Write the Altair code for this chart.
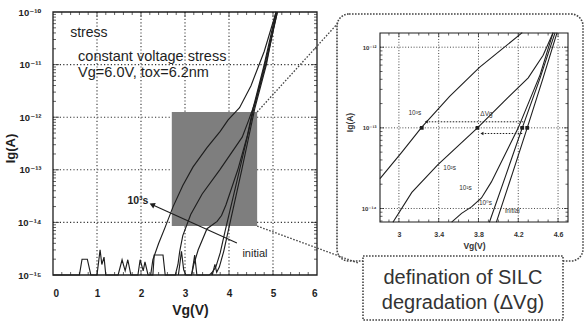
import altair as alt
import numpy as np
import pandas as pd

FONT = "Liberation Sans, Arial, Helvetica, DejaVu Sans, sans-serif"
INK = "#1e1e1e"
GRID = "#333333"

# ---------------- main panel : Vg (V) and log10 Ig ----------------
main_x_ticks = [0, 1, 2, 3, 4, 5, 6]
main_y_exps = [-15, -14, -13, -12, -11, -10]

floor_v = [0.00, 0.60, 0.66, 0.78, 0.86, 1.00, 1.07, 1.11, 1.16, 1.20, 1.48, 1.57, 1.64, 1.70, 1.77,
           1.93, 1.98, 2.05, 2.09, 2.16, 2.22]
floor_e = [-15, -15, -14.70, -14.70, -15, -15, -14.52, -14.80, -14.66, -15, -15, -14.71, -14.92, -14.71, -15,
           -15, -14.71, -14.92, -14.75, -15, -15]

s3_v = [2.22, 2.27, 2.40, 2.55, 2.73, 2.95, 3.18, 3.50, 3.80, 3.98, 4.24, 4.50, 4.80, 5.07]
s3_e = [-15, -14.71, -14.40, -14.09, -13.70, -13.30, -12.95, -12.58, -12.27, -12.05, -11.82, -11.40, -10.75, -10.0]

s2_v = [2.22, 2.27, 2.30, 2.50, 2.55, 2.78, 2.84, 2.88, 2.95, 3.13, 3.39, 3.79, 4.30, 4.45, 4.60, 4.80, 5.10]
s2_e = [-15, -15, -14.62, -14.62, -15, -15, -14.80, -14.55, -14.25, -13.85, -13.46, -13.00, -12.38, -12.05, -11.70, -11.05, -10.0]

s1_v = [2.85, 2.92, 2.97, 3.02, 3.15, 3.20, 3.30, 3.50, 3.73, 3.83, 3.93, 4.20, 4.42, 4.55, 4.80, 5.07]
s1_e = [-15, -14.55, -14.90, -15, -15, -14.80, -14.52, -14.12, -13.98, -13.87, -13.67, -13.00, -12.34, -11.82, -11.00, -10.0]

s0_v = [3.15, 3.22, 3.27, 3.34, 3.55, 3.61, 3.70, 3.80, 3.91, 4.24, 4.57, 4.85, 5.10]
s0_e = [-15, -14.62, -15, -15, -15, -14.96, -14.85, -14.58, -14.17, -13.00, -11.82, -10.95, -10.0]

init_v = [3.62, 3.68, 3.72, 3.78, 3.88, 3.98, 4.29, 4.59, 4.85, 5.08]
init_e = [-15, -14.80, -14.95, -14.85, -14.55, -14.17, -13.00, -11.82, -11.00, -10.0]

box_v = [2.70, 4.64]
box_e = [-14.07, -11.90]

main_text = ["stress", "constant voltage stress", "Vg=6.0V, tox=6.2nm"]
main_text_v = [0.39, 0.57, 0.57]
main_text_e = [-10.40, -10.855, -11.16]

lab3_text, lab3_v, lab3_e = "10³s", 1.93, -13.59
init_text, init_lv, init_le = "initial", 4.59, -14.60
arrow_v = [4.18, 2.27]
arrow_e = [-14.39, -13.67]

# ---------------- inset (zoom of shaded region) ----------------
inset_x_ticks = [3.0, 3.4, 3.8, 4.2, 4.6]
inset_y_exps = [-14, -13, -12]
inset_dom_v = [2.81, 4.70]
inset_dom_i = [6.8e-15, 1.5e-12]

iA_v = [2.81, 3.03, 3.23, 3.51, 3.81, 4.03, 4.24]
iA_e = [-13.63, -13.30, -12.99, -12.61, -12.25, -12.03, -11.82]
iB_v = [2.94, 3.13, 3.39, 3.79, 4.05, 4.30, 4.45, 4.55]
iB_e = [-14.17, -13.80, -13.46, -13.00, -12.68, -12.38, -12.10, -11.82]
iC_v = [3.53, 3.63, 3.73, 3.83, 3.93, 4.20, 4.42, 4.55]
iC_e = [-14.17, -14.06, -13.98, -13.87, -13.67, -13.00, -12.34, -11.82]
iD_v = [3.91, 4.08, 4.24, 4.42, 4.57]
iD_e = [-14.17, -13.57, -13.00, -12.38, -11.82]
iE_v = [3.98, 4.14, 4.29, 4.45, 4.59]
iE_e = [-14.17, -13.57, -13.00, -12.38, -11.82]

mark_v = [3.23, 3.79, 4.24, 4.29]
mark_e = [-13.0, -13.0, -13.0, -13.0]

dv_from_v = [4.25, 4.24]
dv_to_v = [3.28, 3.84]
dv_e = [-12.925, -13.07]

inset_text = ["10³s", "ΔVg", "10²s", "10¹s", "10⁰s", "initial"]
inset_text_v = [3.16, 3.88, 3.51, 3.67, 3.87, 4.14]
inset_text_e = [-12.81, -12.83, -13.50, -13.75, -13.93, -14.03]

callout_lines = ["defination of SILC", "degradation (ΔVg)"]

# ---------------- helpers ----------------
SUP = str.maketrans("-0123456789", "⁻⁰¹²³⁴⁵⁶⁷⁸⁹")


def pow_expr(exps):
    e = "round(log(datum.value)/LN10)"
    expr = "''"
    for x in reversed(exps):
        expr = f"({e}=={x}) ? '10{str(x).translate(SUP)}' : {expr}"
    return expr


def curve_df(pairs):
    rows = []
    for name, vs, es in pairs:
        for k, (v, e) in enumerate(zip(vs, es)):
            rows.append({"series": name, "k": k, "V": v, "I": 10.0 ** e})
    return pd.DataFrame(rows)


MX = alt.Scale(domain=[0, 6], range=[53, 317], nice=False, zero=False)
MY = alt.Scale(type="log", domain=[1e-15, 1e-10], range=[275, 12], nice=False)
IX = alt.Scale(domain=inset_dom_v, range=[380, 568], nice=False, zero=False)
IY = alt.Scale(type="log", domain=inset_dom_i, range=[222, 33], nice=False)

MX_AX = alt.Axis(orient="bottom", offset=-47, values=main_x_ticks, format="d", ticks=False, tickSize=0,
                 domain=False, grid=False, labelFont=FONT, labelFontSize=10, labelFontWeight="bold",
                 labelColor=INK, labelPadding=13, title="Vg(V)", titleFont=FONT, titleFontSize=14,
                 titleFontWeight="bold", titleColor=INK, titleX=190, titleY=35,
                 titleBaseline="middle", titleAlign="center")
MY_AX = alt.Axis(orient="left", offset=-53, values=[10.0 ** e for e in main_y_exps],
                 labelExpr=pow_expr(main_y_exps), ticks=False, tickSize=0, domain=False, grid=False,
                 labelFont=FONT, labelFontSize=9.5, labelFontWeight="bold", labelColor=INK,
                 labelPadding=12, title="Ig(A)", titleFont=FONT, titleFontSize=13,
                 titleFontWeight="bold", titleColor=INK, titleX=-43, titleY=148, titleAngle=270,
                 titleBaseline="middle", titleAlign="center")
IX_AX = alt.Axis(orient="bottom", offset=-100, values=inset_x_ticks, format="~g", ticks=False, tickSize=0,
                 domain=False, grid=False, labelFont=FONT, labelFontSize=7, labelFontWeight="bold",
                 labelColor="#333", labelPadding=8, title="Vg(V)", titleFont=FONT, titleFontSize=8.5,
                 titleFontWeight="bold", titleColor="#333", titleX=474, titleY=23,
                 titleBaseline="middle", titleAlign="center")
IY_AX = alt.Axis(orient="left", offset=-380, values=[10.0 ** e for e in inset_y_exps],
                 labelExpr=pow_expr(inset_y_exps), ticks=False, tickSize=0, domain=False, grid=False,
                 labelFont=FONT, labelFontSize=6, labelFontWeight="bold", labelColor="#333",
                 labelPadding=4, title="Ig(A)", titleFont=FONT, titleFontSize=8.5,
                 titleFontWeight="bold", titleColor="#333", titleX=-31, titleY=122, titleAngle=270,
                 titleBaseline="middle", titleAlign="center")


def mx(f="V"):
    return alt.X(f"{f}:Q", scale=MX, axis=MX_AX)


def my(f="I"):
    return alt.Y(f"{f}:Q", scale=MY, axis=MY_AX)


def ix(f="V"):
    return alt.X(f"{f}:Q", scale=IX, axis=IX_AX)


def iy(f="I"):
    return alt.Y(f"{f}:Q", scale=IY, axis=IY_AX)


# ---------------- main layers ----------------
gv = pd.DataFrame({"V": main_x_ticks[1:-1], "I0": 1e-15, "I1": 1e-10})
gh = pd.DataFrame({"I": [10.0 ** e for e in main_y_exps[1:-1]], "V0": 0, "V1": 6})
m_grid_v = alt.Chart(gv).mark_rule(strokeDash=[1.2, 2.2], color=GRID, strokeWidth=1.1).encode(
    x=mx("V"), y=my("I0"), y2="I1")
m_grid_h = alt.Chart(gh).mark_rule(strokeDash=[1.2, 2.2], color=GRID, strokeWidth=1.1).encode(
    x=mx("V0"), x2="V1", y=my("I"))

boxdf = pd.DataFrame({"V0": [box_v[0]], "V1": [box_v[1]], "I0": [10.0 ** box_e[0]], "I1": [10.0 ** box_e[1]]})
m_box = alt.Chart(boxdf).mark_rect(color="#7e7e7e").encode(x=mx("V0"), x2="V1", y=my("I0"), y2="I1")

mcurves = curve_df([("floor", floor_v, floor_e), ("1e3 s", s3_v, s3_e), ("1e2 s", s2_v, s2_e),
                    ("1e1 s", s1_v, s1_e), ("1e0 s", s0_v, s0_e), ("initial", init_v, init_e)])
m_lines = alt.Chart(mcurves).mark_line(color=INK, strokeWidth=1.15).encode(
    x=mx(), y=my(), detail="series:N", order="k:Q")

framedf = pd.DataFrame({"V0": [0], "V1": [6], "I0": [1e-15], "I1": [1e-10]})
m_frame = alt.Chart(framedf).mark_rect(fillOpacity=0, stroke=INK, strokeWidth=1.3).encode(
    x=mx("V0"), x2="V1", y=my("I0"), y2="I1")

m_xt = np.round(np.arange(0.2, 6.0, 0.2), 2)
m_xminor = [v for v in m_xt if abs(v - round(v)) > 1e-6]
m_xmajor = main_x_ticks[1:-1]
m_yminor = [k * 10.0 ** e for e in main_y_exps[:-1] for k in range(2, 10)]
m_ymajor = [10.0 ** e for e in main_y_exps[1:-1]]


def hticks(vals, edge, length, off, xf, yf):
    df = pd.DataFrame({"V": vals, "I": edge})
    return alt.Chart(df).mark_tick(orient="vertical", size=length, thickness=1, color=INK,
                                   yOffset=off).encode(x=xf("V"), y=yf("I"))


def vticks(vals, edge, length, off, xf, yf):
    df = pd.DataFrame({"I": vals, "V": edge})
    return alt.Chart(df).mark_tick(orient="horizontal", size=length, thickness=1, color=INK,
                                   xOffset=off).encode(x=xf("V"), y=yf("I"))


m_ticks = [
    hticks(m_xminor, 1e-15, 3, -1.5, mx, my), hticks(m_xmajor, 1e-15, 5, -2.5, mx, my),
    hticks(m_xminor, 1e-10, 3, 1.5, mx, my), hticks(m_xmajor, 1e-10, 5, 2.5, mx, my),
    vticks(m_yminor, 0, 3, 1.5, mx, my), vticks(m_ymajor, 0, 6, 3, mx, my),
    vticks(m_yminor, 6, 3, -1.5, mx, my), vticks(m_ymajor, 6, 6, -3, mx, my),
]

mtext = pd.DataFrame({"t": main_text, "V": main_text_v, "I": [10.0 ** e for e in main_text_e],
                      "fs": [14, 14.5, 14.5]})
m_text = alt.Chart(mtext).mark_text(align="left", baseline="middle", font=FONT, color=INK).encode(
    x=mx(), y=my(), text="t:N", size=alt.Size("fs:Q", scale=None, legend=None))

m_lab3 = alt.Chart(pd.DataFrame({"t": [lab3_text], "V": [lab3_v], "I": [10.0 ** lab3_e]})).mark_text(
    align="center", baseline="middle", font=FONT, fontSize=10.5, fontWeight="bold", color=INK).encode(
    x=mx(), y=my(), text="t:N")
m_labi = alt.Chart(pd.DataFrame({"t": [init_text], "V": [init_lv], "I": [10.0 ** init_le]})).mark_text(
    align="center", baseline="middle", font=FONT, fontSize=11, color=INK).encode(
    x=mx(), y=my(), text="t:N")

arrdf = pd.DataFrame({"V0": [arrow_v[0]], "I0": [10.0 ** arrow_e[0]], "V1": [arrow_v[1]], "I1": [10.0 ** arrow_e[1]]})
m_arrow = alt.Chart(arrdf).mark_rule(color=INK, strokeWidth=1.1).encode(
    x=mx("V0"), y=my("I0"), x2="V1", y2="I1")
m_head = alt.Chart(arrdf).mark_point(shape="triangle", filled=True, size=38, angle=294, color=INK,
                                     opacity=1).encode(x=mx("V1"), y=my("I1"))

conn_top = alt.Chart(pd.DataFrame({"V": [box_v[1]], "I": [10.0 ** box_e[1]]})).mark_rule(
    strokeDash=[1.6, 1.6], color="#444", strokeWidth=1.3).encode(
    x=mx(), y=my(), x2=alt.value(339), y2=alt.value(22))
conn_bot = alt.Chart(pd.DataFrame({"V": [box_v[1]], "I": [10.0 ** box_e[0]]})).mark_rule(
    strokeDash=[1.6, 1.6], color="#444", strokeWidth=1.3).encode(
    x=mx(), y=my(), x2=alt.value(358), y2=alt.value(263))

main = alt.layer(m_grid_v, m_grid_h, m_box, m_lines, m_frame, *m_ticks, m_text, m_lab3, m_labi,
                 m_arrow, m_head, conn_top, conn_bot)

# ---------------- decorations (call-out frames) ----------------
one = pd.DataFrame({"d": [0]})
d_round = alt.Chart(one).mark_rect(cornerRadius=12, fillOpacity=0, stroke="#444", strokeWidth=1.6,
                                   strokeDash=[1.6, 1.4]).encode(
    x=alt.value(337), x2=alt.value(583), y=alt.value(14), y2=alt.value(261))
d_box = alt.Chart(one).mark_rect(fill="white", stroke="#444", strokeWidth=1.6,
                                 strokeDash=[1.6, 1.4]).encode(
    x=alt.value(363), x2=alt.value(563), y=alt.value(256), y2=alt.value(320))
d_t1 = alt.Chart(one).mark_text(font=FONT, fontSize=20, color="#333", baseline="middle").encode(
    x=alt.value(463), y=alt.value(278), text=alt.value(callout_lines[0]))
d_t2 = alt.Chart(one).mark_text(font=FONT, fontSize=20, color="#333", baseline="middle").encode(
    x=alt.value(463), y=alt.value(303), text=alt.value(callout_lines[1]))
decor = alt.layer(d_round, d_box, d_t1, d_t2)

# ---------------- inset layers ----------------
igv = pd.DataFrame({"V": inset_x_ticks, "I0": inset_dom_i[0], "I1": inset_dom_i[1]})
igh = pd.DataFrame({"I": [10.0 ** e for e in inset_y_exps], "V0": inset_dom_v[0], "V1": inset_dom_v[1]})
i_grid_v = alt.Chart(igv).mark_rule(strokeDash=[1, 1.8], color=GRID, strokeWidth=0.9).encode(
    x=ix("V"), y=iy("I0"), y2="I1")
i_grid_h = alt.Chart(igh).mark_rule(strokeDash=[1, 1.8], color=GRID, strokeWidth=0.9).encode(
    x=ix("V0"), x2="V1", y=iy("I"))

icurves = curve_df([("1e3 s", iA_v, iA_e), ("1e2 s", iB_v, iB_e), ("1e1 s", iC_v, iC_e),
                    ("1e0 s", iD_v, iD_e), ("initial", iE_v, iE_e)])
i_lines = alt.Chart(icurves).mark_line(color=INK, strokeWidth=1.1).encode(
    x=ix(), y=iy(), detail="series:N", order="k:Q")

iframe = pd.DataFrame({"V0": [inset_dom_v[0]], "V1": [inset_dom_v[1]], "I0": [inset_dom_i[0]], "I1": [inset_dom_i[1]]})
i_frame = alt.Chart(iframe).mark_rect(fillOpacity=0, stroke=INK, strokeWidth=1.1).encode(
    x=ix("V0"), x2="V1", y=iy("I0"), y2="I1")

i_xt = np.round(np.arange(2.9, 4.65, 0.1), 2)
i_xminor = [v for v in i_xt if min(abs(v - t) for t in inset_x_ticks) > 1e-6]
i_yminor = [k * 10.0 ** e for e in (-15, -14, -13) for k in range(2, 10)
            if inset_dom_i[0] <= k * 10.0 ** e <= inset_dom_i[1]]
i_ymajor = [10.0 ** e for e in inset_y_exps]
i_ticks = [
    hticks(i_xminor, inset_dom_i[0], 2.5, -1.25, ix, iy), hticks(inset_x_ticks, inset_dom_i[0], 4, -2, ix, iy),
    hticks(i_xminor, inset_dom_i[1], 2.5, 1.25, ix, iy), hticks(inset_x_ticks, inset_dom_i[1], 4, 2, ix, iy),
    vticks(i_yminor, inset_dom_v[0], 2.5, 1.25, ix, iy), vticks(i_ymajor, inset_dom_v[0], 4, 2, ix, iy),
    vticks(i_yminor, inset_dom_v[1], 2.5, -1.25, ix, iy), vticks(i_ymajor, inset_dom_v[1], 4, -2, ix, iy),
]

mk = pd.DataFrame({"V": mark_v, "I": [10.0 ** e for e in mark_e]})
i_marks = alt.Chart(mk).mark_point(shape="square", filled=True, size=14, color=INK, opacity=1).encode(
    x=ix(), y=iy())

dv = pd.DataFrame({"V0": dv_from_v, "V1": dv_to_v, "I": [10.0 ** e for e in dv_e]})
i_dv = alt.Chart(dv).mark_rule(strokeDash=[1.5, 1.5], color=INK, strokeWidth=1).encode(
    x=ix("V0"), x2="V1", y=iy("I"))
i_dvh = alt.Chart(dv).mark_point(shape="triangle", filled=True, size=12, angle=270, color=INK,
                                 opacity=1).encode(x=ix("V1"), y=iy("I"))

itext = pd.DataFrame({"t": inset_text, "V": inset_text_v, "I": [10.0 ** e for e in inset_text_e]})
i_text = alt.Chart(itext).mark_text(align="center", baseline="middle", font=FONT, fontSize=6.5,
                                    color="#333").encode(x=ix(), y=iy(), text="t:N")

inset = alt.layer(i_grid_v, i_grid_h, i_lines, i_frame, *i_ticks, i_marks, i_dv, i_dvh, i_text)

chart = alt.layer(decor, main, inset).resolve_scale(x="independent", y="independent").properties(
    width=585, height=322, autosize=alt.AutoSizeParams(type="none"), padding=0, background="white"
).configure_view(stroke=None)

chart.save("out.html", embed_options={"renderer": "svg", "actions": False})
